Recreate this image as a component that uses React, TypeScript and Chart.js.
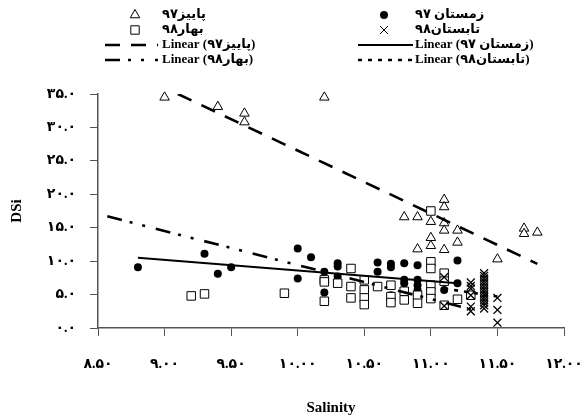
import React, { useEffect, useRef } from 'react';
import { Chart, registerables } from 'chart.js';

Chart.register(...registerables);

// ---------- data ----------
const seriesNames = ['پاییز۹۷', 'زمستان ۹۷', 'بهار۹۸', 'تابستان۹۸'];

const autumnX = [9.0, 9.4, 9.6, 9.6, 10.2, 10.8, 10.9, 11.0, 11.1, 11.1, 11.1, 11.1, 11.2, 11.0, 11.0, 10.9, 11.1, 11.2, 11.5, 11.7, 11.7, 11.8];
const autumnY = [34.5, 33.1, 32.1, 30.8, 34.5, 16.6, 16.6, 15.9, 19.2, 18.1, 15.7, 14.6, 14.6, 13.5, 12.3, 11.8, 11.7, 12.8, 10.3, 14.9, 14.1, 14.3];

const winterX = [8.8, 9.3, 9.4, 9.5, 10.0, 10.1, 10.0, 10.2, 10.2, 10.3, 10.3, 10.3, 10.6, 10.6, 10.5, 10.7, 10.7, 10.7, 10.8, 10.8, 10.8, 10.9, 10.9, 10.9, 10.9, 11.2, 11.1, 11.2];
const winterY = [9.1, 11.1, 8.1, 9.1, 11.9, 10.6, 7.4, 8.4, 5.3, 9.7, 9.2, 7.7, 9.8, 8.4, 5.7, 9.6, 9.1, 4.9, 9.7, 7.2, 6.7, 9.4, 7.2, 6.4, 5.7, 10.1, 5.7, 6.7];

const springX = [9.2, 9.3, 9.9, 10.2, 10.2, 10.2, 10.3, 10.4, 10.4, 10.4, 10.5, 10.5, 10.5, 10.5, 10.6, 10.7, 10.7, 10.7, 10.8, 10.8, 10.9, 10.9, 11.0, 11.0, 11.0, 11.0, 11.0, 11.0, 11.1, 11.1, 11.1, 11.2, 11.3];
const springY = [4.8, 5.1, 5.2, 7.2, 6.9, 4.0, 6.7, 8.9, 6.2, 4.5, 7.2, 5.7, 4.5, 3.5, 6.2, 6.4, 4.7, 3.8, 5.5, 4.2, 4.9, 3.7, 17.5, 9.9, 8.9, 6.4, 5.4, 4.4, 8.2, 7.0, 3.4, 4.3, 4.9];

const summerX = [11.1, 11.1, 11.3, 11.3, 11.3, 11.3, 11.3, 11.3, 11.4, 11.4, 11.4, 11.4, 11.4, 11.4, 11.4, 11.4, 11.4, 11.4, 11.4, 11.4, 11.4, 11.4, 11.5, 11.5, 11.5];
const summerY = [7.6, 3.3, 6.8, 6.3, 5.9, 4.9, 3.2, 2.5, 8.2, 7.8, 7.4, 7.0, 6.6, 6.2, 5.8, 5.4, 5.0, 4.6, 4.2, 3.8, 3.4, 2.9, 4.5, 2.7, 0.8];

// trend line end points
const autumnTrendX = [9.1, 11.8];
const autumnTrendY = [35.0, 9.6];
const winterTrendX = [8.8, 11.2];
const winterTrendY = [10.5, 6.7];
const springTrendX = [8.57, 11.3];
const springTrendY = [16.7, 2.8];
const summerTrendX = [11.1, 11.5];
const summerTrendY = [5.9, 4.7];

const xTickLabels = ['۸.۵۰', '۹.۰۰', '۹.۵۰', '۱۰.۰۰', '۱۰.۵۰', '۱۱.۰۰', '۱۱.۵۰', '۱۲.۰۰'];
const yTickLabels = ['۰.۰', '۵.۰', '۱۰.۰', '۱۵.۰', '۲۰.۰', '۲۵.۰', '۳۰.۰', '۳۵.۰'];

const xAxisTitle = 'Salinity';
const yAxisTitle = 'DSi';

// ---------- helpers ----------
const zip = (xs: number[], ys: number[]) => xs.map((x, i) => ({ x, y: ys[i] }));

const FONT_FAMILY = '"Liberation Serif", "DejaVu Sans", serif';

const DASH_AUTUMN = [15, 11];
const DASH_SPRING = [15, 8, 3, 10, 3, 11];
const DASH_SUMMER = [4, 6];

type LegendItem = { text: string; kind: string; col: number; row: number; dash?: number[]; width?: number };

const legendItems: LegendItem[] = [
  { text: seriesNames[0], kind: 'triangle', col: 0, row: 0 },
  { text: seriesNames[1], kind: 'circle', col: 1, row: 0 },
  { text: seriesNames[2], kind: 'square', col: 0, row: 1 },
  { text: seriesNames[3], kind: 'cross', col: 1, row: 1 },
  { text: `Linear (${seriesNames[0]})`, kind: 'line', col: 0, row: 2, dash: DASH_AUTUMN, width: 2.6 },
  { text: `Linear (${seriesNames[1]})`, kind: 'line', col: 1, row: 2, dash: [], width: 2 },
  { text: `Linear (${seriesNames[2]})`, kind: 'line', col: 0, row: 3, dash: DASH_SPRING, width: 2.6 },
  { text: `Linear (${seriesNames[3]})`, kind: 'line', col: 1, row: 3, dash: DASH_SUMMER, width: 2.6 },
];

function drawMarker(ctx: CanvasRenderingContext2D, kind: string, x: number, y: number) {
  ctx.save();
  ctx.setLineDash([]);
  ctx.lineWidth = 1;
  ctx.strokeStyle = '#000';
  ctx.beginPath();
  if (kind === 'triangle') {
    const r = 5.5;
    ctx.moveTo(x, y - r);
    ctx.lineTo(x + r * 0.866, y + r * 0.5);
    ctx.lineTo(x - r * 0.866, y + r * 0.5);
    ctx.closePath();
    ctx.fillStyle = '#fff';
    ctx.fill();
    ctx.stroke();
  } else if (kind === 'square') {
    const s = 4.2;
    ctx.rect(x - s, y - s, 2 * s, 2 * s);
    ctx.fillStyle = '#fff';
    ctx.fill();
    ctx.stroke();
  } else if (kind === 'circle') {
    ctx.arc(x, y, 4, 0, Math.PI * 2);
    ctx.fillStyle = '#000';
    ctx.fill();
  } else if (kind === 'cross') {
    const o = 4;
    ctx.moveTo(x - o, y - o);
    ctx.lineTo(x + o, y + o);
    ctx.moveTo(x + o, y - o);
    ctx.lineTo(x - o, y + o);
    ctx.stroke();
  }
  ctx.restore();
}

const legendPlugin = {
  id: 'twoColumnLegend',
  afterDraw(chart: any) {
    const ctx: CanvasRenderingContext2D = chart.ctx;
    const cols = [
      { marker: 135, l1: 105, l2: 158, text: 162 },
      { marker: 384, l1: 358, l2: 413, text: 415 },
    ];
    const rows = [15, 30, 45, 60];
    ctx.save();
    ctx.font = `bold 13px ${FONT_FAMILY}`;
    ctx.fillStyle = '#000';
    ctx.textBaseline = 'middle';
    ctx.textAlign = 'left';
    legendItems.forEach((it) => {
      const c = cols[it.col];
      const y = rows[it.row];
      if (it.kind === 'line') {
        ctx.save();
        ctx.strokeStyle = '#000';
        ctx.lineWidth = it.width || 2;
        ctx.setLineDash(it.dash || []);
        ctx.beginPath();
        ctx.moveTo(c.l1, y);
        ctx.lineTo(c.l2, y);
        ctx.stroke();
        ctx.restore();
      } else {
        drawMarker(ctx, it.kind, c.marker, y);
      }
      ctx.fillStyle = '#000';
      ctx.fillText(it.text, c.text, y);
    });
    ctx.restore();
  },
};

export default function App() {
  const ref = useRef<HTMLCanvasElement | null>(null);

  useEffect(() => {
    if (!ref.current) return;
    Chart.defaults.font.family = FONT_FAMILY;
    const trend = (xs: number[], ys: number[], dash: number[], width: number) => ({
      data: zip(xs, ys),
      showLine: true,
      pointRadius: 0,
      borderColor: '#000',
      borderWidth: width,
      borderDash: dash,
      borderCapStyle: 'butt',
      fill: false,
    });
    const chart = new Chart(ref.current, {
      type: 'scatter',
      data: {
        datasets: [
          { label: `Linear (${seriesNames[0]})`, ...trend(autumnTrendX, autumnTrendY, DASH_AUTUMN, 2.6) },
          { label: `Linear (${seriesNames[1]})`, ...trend(winterTrendX, winterTrendY, [], 2) },
          { label: `Linear (${seriesNames[2]})`, ...trend(springTrendX, springTrendY, DASH_SPRING, 2.6) },
          { label: `Linear (${seriesNames[3]})`, ...trend(summerTrendX, summerTrendY, DASH_SUMMER, 2.6) },
          {
            label: seriesNames[3],
            data: zip(summerX, summerY),
            pointStyle: 'crossRot',
            pointRadius: 5.6,
            borderColor: '#000',
            borderWidth: 1.3,
            clip: false,
          },
          {
            label: seriesNames[2],
            data: zip(springX, springY),
            pointStyle: 'rect',
            pointRadius: 6,
            backgroundColor: '#fff',
            borderColor: '#000',
            borderWidth: 1,
            clip: false,
          },
          {
            label: seriesNames[1],
            data: zip(winterX, winterY),
            pointStyle: 'circle',
            pointRadius: 4,
            backgroundColor: '#000',
            borderColor: '#000',
            borderWidth: 0,
            clip: false,
          },
          {
            label: seriesNames[0],
            data: zip(autumnX, autumnY),
            pointStyle: 'triangle',
            pointRadius: 5.5,
            backgroundColor: '#fff',
            borderColor: '#000',
            borderWidth: 1,
            clip: false,
          },
        ] as any,
      },
      options: {
        animation: false,
        responsive: false,
        devicePixelRatio: 1,
        layout: { padding: { top: 94, right: 21, bottom: 0, left: 0 } },
        plugins: {
          legend: { display: false },
          tooltip: { enabled: false },
        },
        scales: {
          x: {
            type: 'linear',
            min: 8.5,
            max: 12,
            afterFit: (scale: any) => {
              scale.height = 91;
              scale.paddingLeft = 0;
              scale.paddingRight = 0;
            },
            ticks: {
              stepSize: 0.5,
              autoSkip: false,
              maxRotation: 0,
              padding: 20,
              color: '#000',
              font: { size: 14, weight: 'bold' },
              callback: (_v: any, i: number) => xTickLabels[i],
            },
            grid: { drawOnChartArea: false, tickLength: 8, color: '#555', lineWidth: 1 },
            border: { color: '#555', width: 1.5 },
            title: {
              display: true,
              text: xAxisTitle,
              color: '#000',
              font: { size: 15, weight: 'bold' },
              padding: { top: 0, bottom: 2 },
            },
          },
          y: {
            type: 'linear',
            min: 0,
            max: 35,
            afterFit: (scale: any) => {
              scale.width = 98;
            },
            ticks: {
              stepSize: 5,
              padding: 14,
              color: '#000',
              font: { size: 14, weight: 'bold' },
              callback: (_v: any, i: number) => yTickLabels[i],
            },
            grid: { drawOnChartArea: false, tickLength: 8, color: '#555', lineWidth: 1 },
            border: { color: '#555', width: 1.5 },
            title: {
              display: true,
              text: yAxisTitle,
              color: '#000',
              font: { size: 15, weight: 'bold' },
              padding: { top: 8, bottom: 0 },
            },
          },
        },
      } as any,
      plugins: [legendPlugin],
    });
    return () => chart.destroy();
  }, []);

  return (
    <div style={{ position: 'fixed', left: 0, top: 0, width: 585, height: 419, background: '#fff' }}>
      <canvas ref={ref} width={585} height={419} style={{ width: 585, height: 419 }} />
    </div>
  );
}
